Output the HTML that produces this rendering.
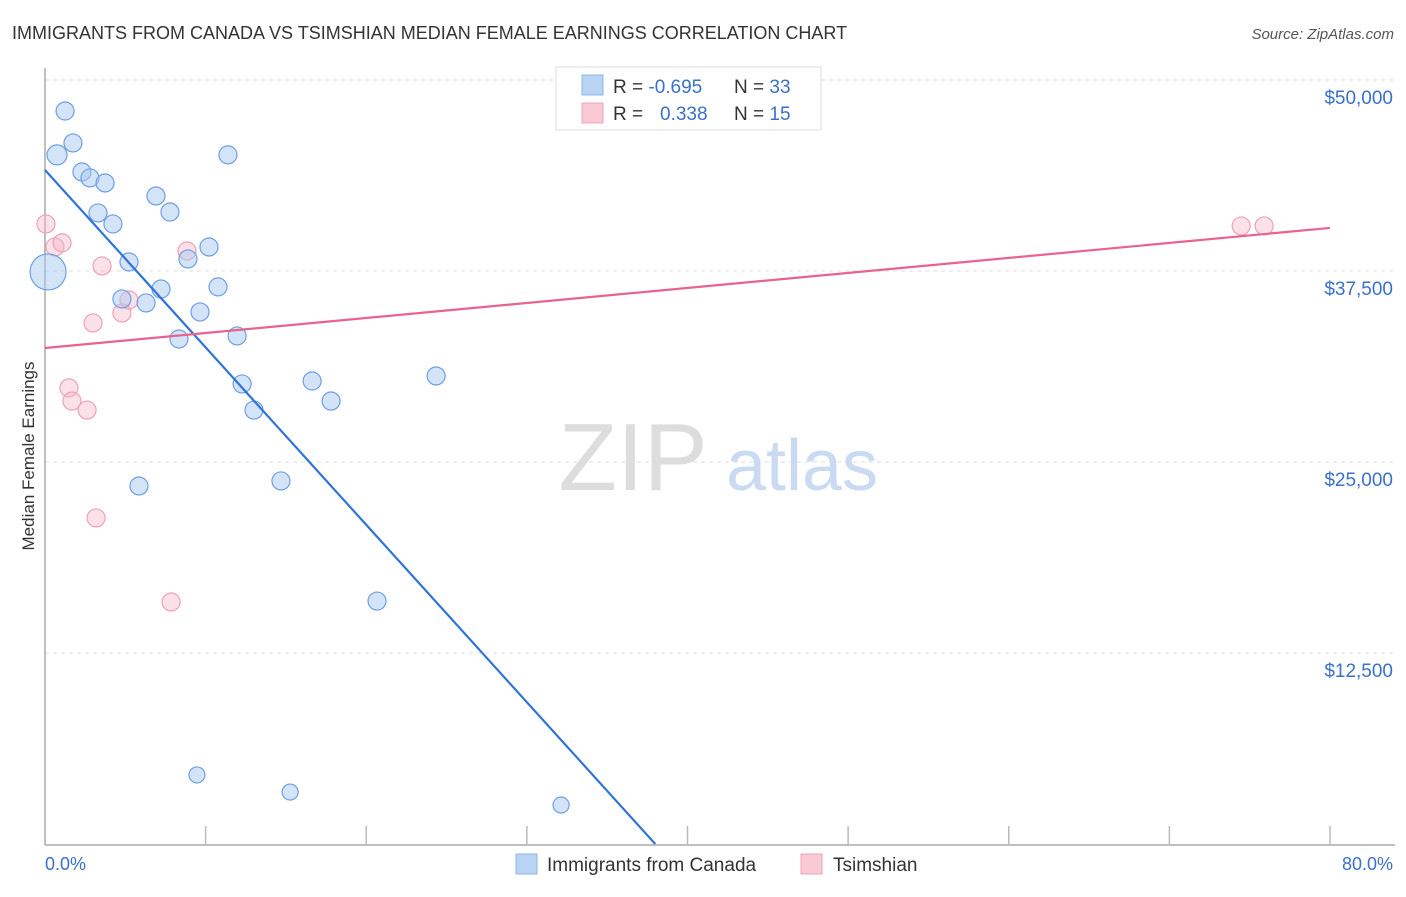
<!DOCTYPE html>
<html><head><meta charset="utf-8"><style>
body{margin:0;background:#fff;font-family:"Liberation Sans",sans-serif;}
svg text{font-family:"Liberation Sans",sans-serif;}
</style></head><body>
<svg id="chart" width="1406" height="892" xmlns="http://www.w3.org/2000/svg">
<text x="12" y="39" font-size="18" fill="#333">IMMIGRANTS FROM CANADA VS TSIMSHIAN MEDIAN FEMALE EARNINGS CORRELATION CHART</text>
<text x="1394" y="39" font-size="15" fill="#555" font-style="italic" text-anchor="end">Source: ZipAtlas.com</text>
<g id="grid"></g>
<g>
<text x="633" y="490" font-size="96" fill="#ddd" font-family="Liberation Serif, serif" text-anchor="middle">ZIP</text>
<text x="802" y="490" font-size="72" fill="#c9daf2" text-anchor="middle">atlas</text>
</g>
<line x1="45" y1="68" x2="45" y2="845" stroke="#aaa" stroke-width="1.5"/>
<line x1="45" y1="845" x2="1395" y2="845" stroke="#aaa" stroke-width="1.5"/>
<g id="xticks"></g>
<g id="ylabels"></g>
<text x="45" y="870" font-size="18" fill="#3a70cc">0.0%</text>
<text x="1393" y="870" font-size="18" fill="#3a70cc" text-anchor="end">80.0%</text>
<text transform="translate(34,456) rotate(-90)" font-size="17" fill="#333" text-anchor="middle">Median Female Earnings</text>
<g id="pts"></g>
<g id="trends"></g>
<g>
<rect x="556" y="67" width="265" height="63" fill="#fff" stroke="#ddd"/>
<rect x="582" y="75" width="21" height="20" fill="#b9d3f5" stroke="#8fb4ea"/>
<rect x="582" y="103" width="21" height="20" fill="#f9c9d6" stroke="#f0a5bb"/>
<text x="613" y="93" font-size="19" fill="#333">R = <tspan fill="#3a70cc">-0.695</tspan></text>
<text x="734" y="93" font-size="19" fill="#333">N = <tspan fill="#3a70cc">33</tspan></text>
<text x="613" y="120" font-size="19" fill="#333">R = <tspan fill="#3a70cc" x="660">0.338</tspan></text>
<text x="734" y="120" font-size="19" fill="#333">N = <tspan fill="#3a70cc">15</tspan></text>
</g>
<g>
<rect x="516" y="854" width="21" height="20" fill="#b9d3f5" stroke="#8fb4ea"/>
<text x="547" y="871" font-size="19" fill="#333">Immigrants from Canada</text>
<rect x="801" y="854" width="21" height="20" fill="#f9c9d6" stroke="#f0a5bb"/>
<text x="833" y="871" font-size="19" fill="#333">Tsimshian</text>
</g>
</svg>
<script>
const yTicks=[12500,25000,37500,50000];
const yTickLabels=["$12,500","$25,000","$37,500","$50,000"];
const xTickVals=[0,10,20,30,40,50,60,70,80];
const blueX=[1.25,1.74,0.75,2.30,2.80,3.74,3.30,4.23,11.39,6.91,7.78,10.21,5.23,8.90,0.19,7.22,10.77,4.79,6.29,9.65,8.34,11.96,12.27,16.63,17.81,13.01,24.35,5.85,14.69,20.67,9.46,15.26,32.13];
const blueY=[47970,45880,45100,43980,43590,43260,41300,40580,45100,42410,41360,39070,38090,38290,37440,36320,36460,35670,35410,34820,33050,33250,30110,30300,28990,28400,30630,23430,23760,15900,4520,3400,2550];
const blueR=[9,9,10,9,9,9,9,9,9,9,9,9,9,9,18,9,9,9,9,9,9,9,9,9,9,9,9,9,9,9,8,8,8];
const pinkX=[0.06,0.62,1.06,3.55,8.84,5.23,4.79,2.99,1.49,1.68,2.62,3.18,7.85,74.47,75.90];
const pinkY=[40580,39070,39340,37830,38810,35600,34750,34100,29850,28990,28400,21340,15840,40450,40450];
const blueTrend=[44110,-1161];
const pinkTrend=[32460,98.25];
const NS="http://www.w3.org/2000/svg";
const X=v=>45+v*(1285/80);
const Y=v=>844-v*(764/50000);
function mk(tag,attrs,parent){const e=document.createElementNS(NS,tag);for(const k in attrs)e.setAttribute(k,attrs[k]);document.getElementById(parent).appendChild(e);return e;}
yTicks.forEach((t,i)=>{
 const l=mk('line',{x1:45,x2:1395,y1:Y(t),y2:Y(t),stroke:'#ddd','stroke-dasharray':'4,4'},'grid');
 
 
 const tx=mk('text',{x:1393,y:Y(t)+24,'font-size':19,fill:'#3a70cc','text-anchor':'end'},'ylabels');
 tx.textContent=yTickLabels[i];
 
 
});
xTickVals.forEach(v=>{
 if(v===0)return;
 const l=mk('line',{x1:X(v),x2:X(v),y1:826,y2:845,stroke:'#bbb','stroke-width':1.5},'xticks');
 
 
});
pinkX.forEach((x,i)=>{
 const c=mk('circle',{cx:X(x),cy:Y(pinkY[i]),r:9,fill:'rgba(247,180,200,0.4)',stroke:'#f0a0b8','stroke-width':1.2},'pts');
 
 
});
blueX.forEach((x,i)=>{
 const c=mk('circle',{cx:X(x),cy:Y(blueY[i]),r:blueR[i],fill:'rgba(170,202,242,0.5)',stroke:'#6e9fe2','stroke-width':1.2},'pts');
 
 
});
const bx1=-blueTrend[0]/blueTrend[1];
const bl=mk('line',{x1:X(0),y1:Y(blueTrend[0]),x2:X(bx1),y2:Y(0),stroke:'#2f74d8','stroke-width':2.2},'trends');


const pl=mk('line',{x1:X(0),y1:Y(pinkTrend[0]),x2:X(80),y2:Y(pinkTrend[0]+pinkTrend[1]*80),stroke:'#e8638e','stroke-width':2.2},'trends');


</script>
</body></html>
